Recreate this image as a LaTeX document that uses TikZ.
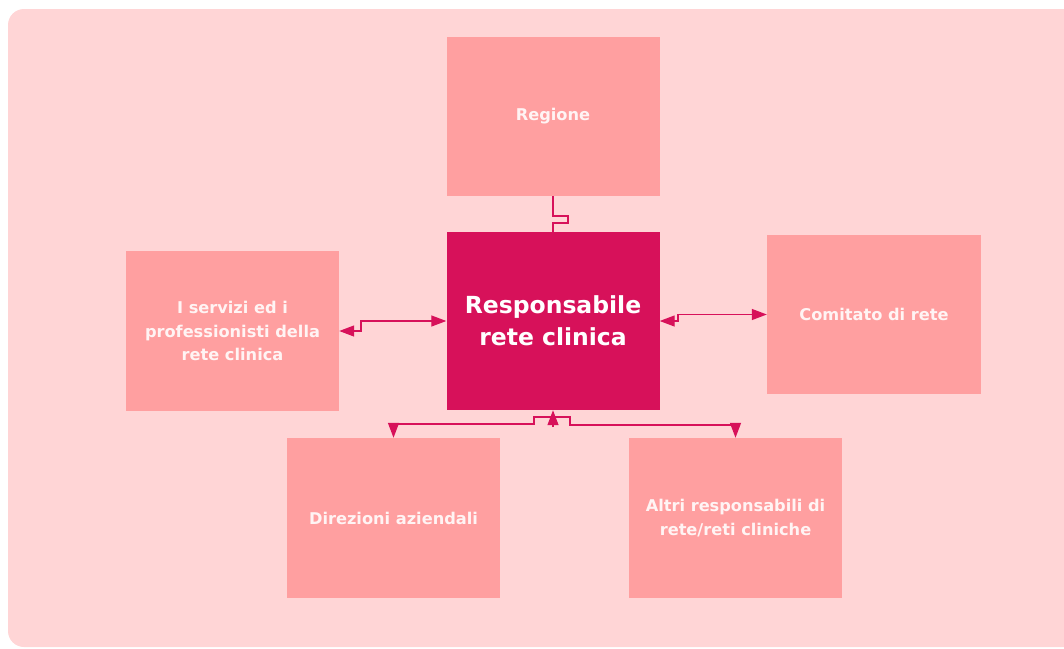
\documentclass[tikz,border=0pt]{standalone}
\usepackage{fontspec}
\setmainfont{DejaVu Sans}
\usetikzlibrary{arrows.meta}
\definecolor{panel}{RGB}{255,213,214}
\definecolor{boxfill}{RGB}{255,159,160}
\definecolor{hub}{RGB}{215,17,90}
\definecolor{label}{RGB}{255,244,244}
\tikzset{
  unit/.style={draw=none, fill=boxfill, inner sep=0pt, minimum width=213pt,
    minimum height=160pt, align=center, text=label,
    font=\bfseries\fontsize{16.2}{23.5}\selectfont},
  hubbox/.style={unit, fill=hub, minimum height=178pt, text=white,
    font=\bfseries\fontsize{23.5}{32}\selectfont},
  link/.style={draw=hub, line width=1.3pt, line join=miter},
  hd/.tip={Triangle[length=15pt, width=11pt]}
}
\begin{document}
\begin{tikzpicture}[x=1pt, y=-1pt]
  \useasboundingbox (0,0) rectangle (1064,648);
  % rounded background panel
  \fill[panel, rounded corners=16pt] (8,9) rectangle (1090,647);

  % boxes
  \node[unit, minimum height=159pt] (T) at (553,116.5) {Regione};
  \node[hubbox] (C) at (553,321) {Responsabile\\rete clinica};
  \node[unit] (L) at (232.5,331) {I servizi ed i\\professionisti della\\rete clinica};
  \node[unit, minimum width=214pt, minimum height=159pt] (R) at (874,314.5) {Comitato di rete};
  \node[unit] (D) at (393.5,518) {Direzioni aziendali};
  \node[unit] (A) at (735.5,518) {Altri responsabili di\\rete/reti cliniche};

  % connectors
  \draw[link] (T.south) -- (553,216) -- (568,216) -- (568,223) -- (553,223) -- (C.north);
  \draw[link, hd-hd] (L.east) -- (361,331) -- (361,321) -- (C.west);
  \draw[link, hd-hd] (C.east) -- (678,321) -- (678,314.5) -- (R.west);
  \draw[link, hd-hd] (D.north) -- (393.5,424) -- (534,424) -- (534,417)
        -- (570,417) -- (570,425) -- (735.5,425) -- (A.north);
  \coordinate (up) at (553,427);
  \draw[link, -hd] (up) -- (C.south);
\end{tikzpicture}
\end{document}
